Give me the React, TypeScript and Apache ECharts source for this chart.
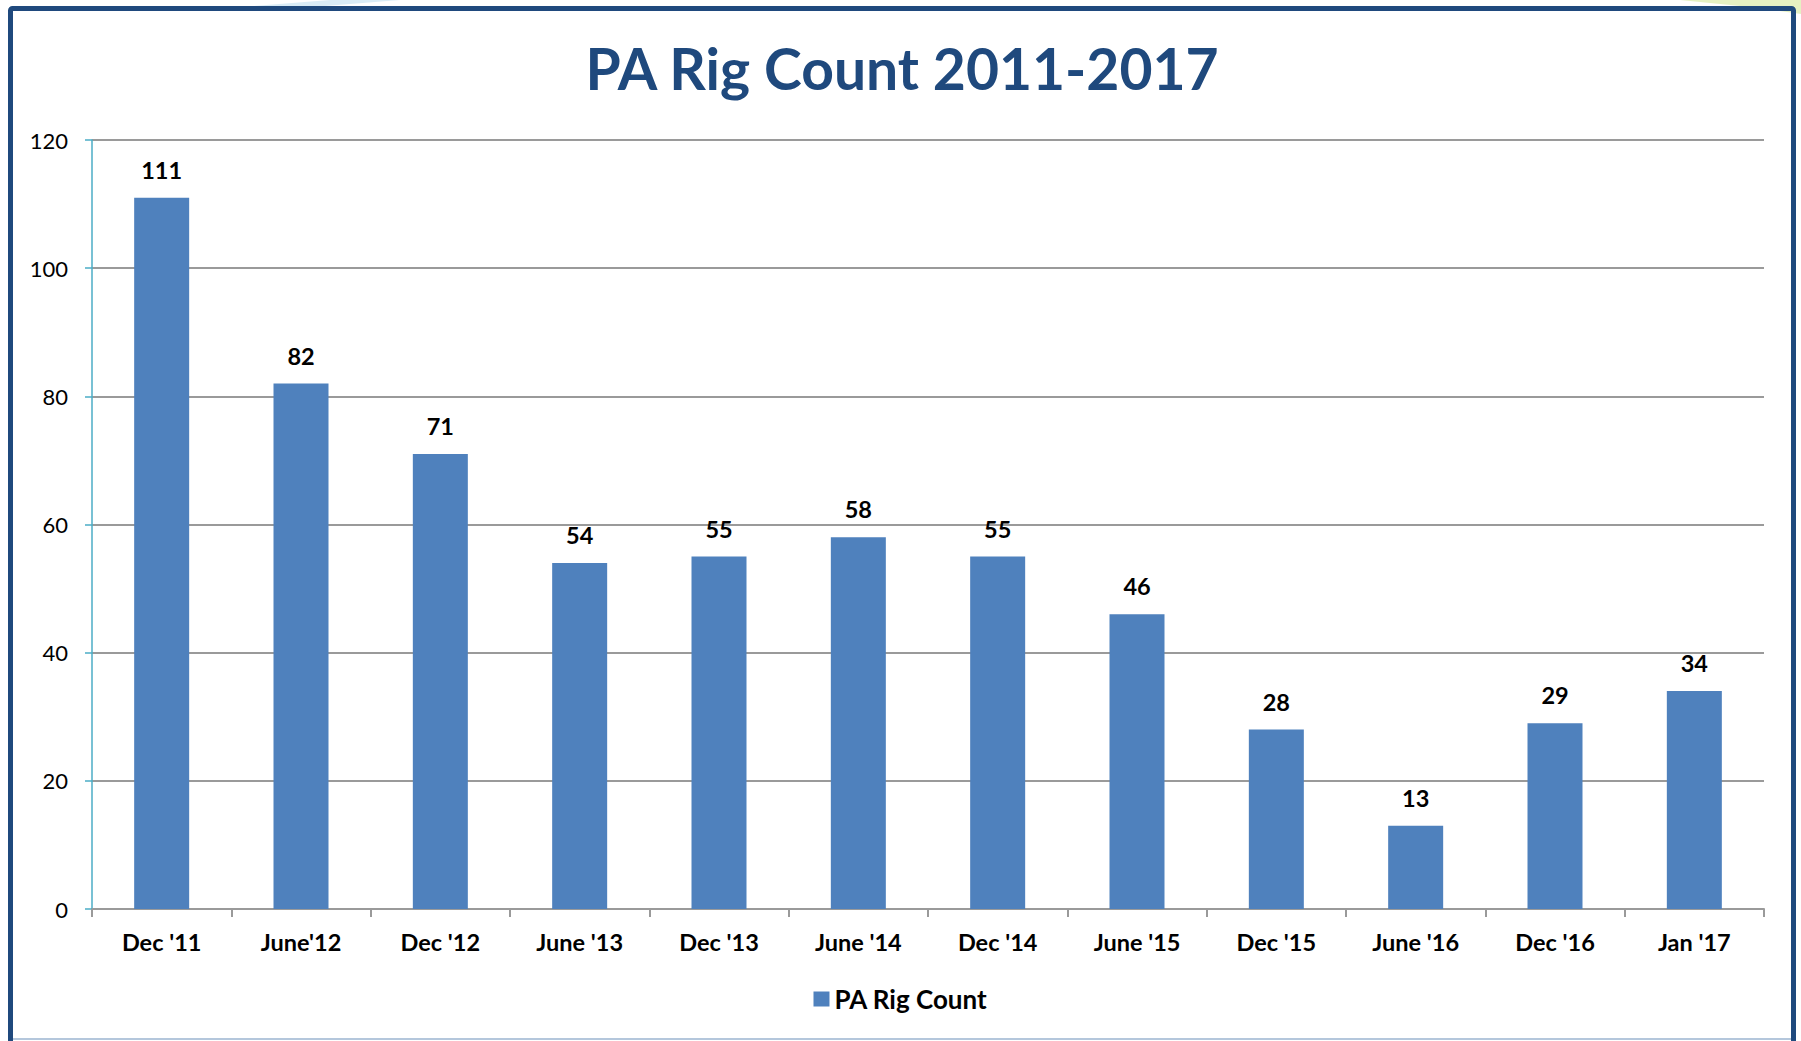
import React, { useEffect, useRef } from "react";
import * as echarts from "echarts";

const categories = ["Dec '11", "June'12", "Dec '12", "June '13", "Dec '13", "June '14", "Dec '14", "June '15", "Dec '15", "June '16", "Dec '16", "Jan '17"];
const rigCount = [111, 82, 71, 54, 55, 58, 55, 46, 28, 13, 29, 34];
const yTicks = { min: 0, max: 120, interval: 20 };

const FONT = "Lato, 'Open Sans', sans-serif";

export default function App() {
  const ref = useRef<HTMLDivElement>(null);
  useEffect(() => {
    const chart = echarts.init(ref.current!, null, { renderer: "svg" });
    chart.setOption({
      animation: false,
      backgroundColor: "#ffffff",
      textStyle: { fontFamily: FONT },
      title: {
        text: "PA Rig Count 2011-2017",
        left: 897,
        textAlign: "center",
        top: 34,
        textStyle: { color: "#1F497D", fontSize: 57, fontWeight: "bold", fontFamily: FONT },
      },
      legend: {
        data: ["PA Rig Count"],
        left: "center",
        top: 981,
        itemWidth: 16,
        itemHeight: 15,
        itemGap: 8,
        icon: "rect",
        textStyle: { fontSize: 26, fontWeight: "bold", color: "#000", fontFamily: FONT },
      },
      grid: { left: 92, right: 37, top: 140, bottom: 132, containLabel: false },
      xAxis: {
        type: "category",
        data: categories,
        axisLine: { show: true, lineStyle: { color: "#9a9a9a", width: 2 } },
        axisTick: { show: true, length: 8, lineStyle: { color: "#9a9a9a", width: 2 } },
        axisLabel: { margin: 21, fontSize: 23.5, fontWeight: "bold", color: "#000", fontFamily: FONT },
      },
      yAxis: {
        type: "value",
        min: yTicks.min,
        max: yTicks.max,
        interval: yTicks.interval,
        axisLine: { show: true, lineStyle: { color: "#4BACC6", width: 1.5 } },
        axisTick: { show: true, length: 7, lineStyle: { color: "#4BACC6", width: 1.5 } },
        axisLabel: { margin: 24, fontSize: 22, color: "#000", fontFamily: FONT },
        splitLine: { show: true, lineStyle: { color: "#9a9a9a", width: 2 } },
      },
      series: [
        {
          name: "PA Rig Count",
          type: "bar",
          data: rigCount,
          barWidth: 55,
          itemStyle: { color: "#4F81BD" },
          label: {
            show: true,
            position: "top",
            distance: 16,
            fontSize: 23.5,
            fontWeight: "bold",
            color: "#000",
            fontFamily: FONT,
          },
        },
      ],
      graphic: [
        {
          type: "polygon",
          silent: true,
          shape: { points: [[230, 8], [330, 0], [400, 0], [300, 8]] },
          style: { fill: "rgba(150,200,230,0.35)" },
        },
        {
          type: "polygon",
          silent: true,
          shape: { points: [[1680, 0], [1801, 0], [1801, 14], [1760, 8]] },
          style: { fill: "rgba(200,225,120,0.45)" },
        },
        {
          type: "line",
          silent: true,
          shape: { x1: 10, y1: 1039, x2: 1794, y2: 1039 },
          style: { stroke: "#b4c7dc", lineWidth: 2 },
        },
        {
          type: "rect",
          silent: true,
          shape: { x: 10.5, y: 8.5, width: 1783, height: 1060, r: 2 },
          style: { fill: "none", stroke: "#1F497D", lineWidth: 5 },
        },
      ],
    });
    return () => chart.dispose();
  }, []);
  return (
    <div
      ref={ref}
      style={{ position: "absolute", left: 0, top: 0, width: 1801, height: 1041 }}
    />
  );
}
